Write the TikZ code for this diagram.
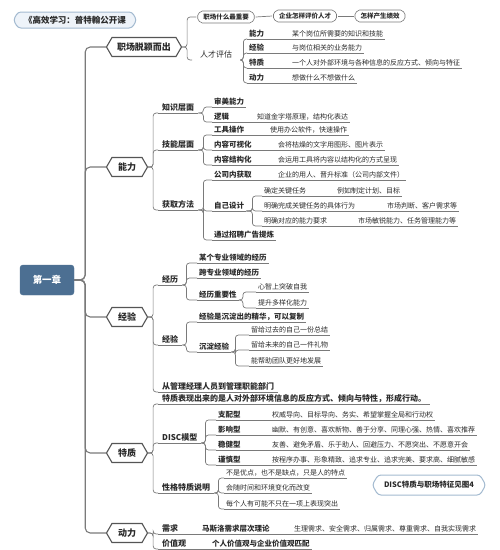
\documentclass[tikz,border=0pt]{standalone}
\usepackage{fontspec}
\setmainfont{Noto Sans CJK SC}
\usetikzlibrary{shapes.symbols}
\definecolor{linegray}{HTML}{7A7A7A}
\definecolor{boxgray}{HTML}{555555}
\definecolor{txt}{HTML}{2A2A2A}
\definecolor{rootblue}{HTML}{4C6F92}
\definecolor{paleblue}{HTML}{EEF3F9}
\definecolor{edgeblue}{HTML}{A3BAD0}
\tikzset{
  root/.style={draw=rootblue, fill=rootblue, rounded corners=3pt, text=white,
    font=\bfseries\fontsize{9.5}{10}\selectfont, minimum width=54pt, minimum height=30pt},
  branch/.style={shape=signal, signal to=west and east, signal pointer angle=120,
    draw=boxgray, line width=1.1pt, fill=white, text=txt,
    font=\bfseries\fontsize{9}{10}\selectfont, minimum height=19pt, inner xsep=5pt, inner ysep=2pt},
  titlebox/.style={shape=signal, signal to=west and east, signal pointer angle=120,
    rounded corners=3pt, draw=edgeblue, fill=paleblue, line width=1pt, text=txt,
    font=\bfseries\fontsize{8.5}{9}\selectfont, minimum height=16pt, inner xsep=6pt},
  qbox/.style={shape=signal, signal to=west and east, signal pointer angle=120,
    rounded corners=2pt, draw=linegray, line width=0.6pt, fill=white, text=txt,
    font=\bfseries\fontsize{6.5}{7}\selectfont, minimum height=12pt, inner xsep=3pt, inner ysep=1pt},
  sub/.style={anchor=south west, inner xsep=4pt, inner ysep=1.5pt, text=txt,
    font=\bfseries\fontsize{8}{9}\selectfont},
  lab/.style={anchor=south west, inner xsep=2pt, inner ysep=1.5pt, text=txt,
    font=\bfseries\fontsize{7.5}{8}\selectfont},
  leaf/.style={anchor=south west, inner xsep=2pt, inner ysep=1.5pt, text=txt,
    font=\fontsize{7}{8}\selectfont},
  link/.style={draw=linegray, line width=0.7pt, rounded corners=3pt},
  trunk/.style={draw=linegray, line width=1.1pt, rounded corners=5pt},
  uline/.style={draw=linegray, line width=0.8pt},
}
\begin{document}
\begin{tikzpicture}[x=1pt,y=-1pt]
\useasboundingbox (0,0) rectangle (500,550);

\node[titlebox] (tt) at (75,20) {《高效学习：普特翰公开课};
\node[root] (r) at (47,280) {第一章};

% first level
\node[branch] (zc) at (144,47) {职场脱颖而出};
\node[branch, minimum width=41pt] (nl) at (127,167) {能力};
\node[branch, minimum width=41pt] (jy) at (127,317) {经验};
\node[branch, minimum width=41pt] (tz) at (127,453) {特质};
\node[branch, minimum width=41pt] (dl) at (127,533) {动力};
\foreach \b in {zc,nl,jy,tz,dl} \draw[trunk] (r.east) -- ++(11,0) |- (\b.west);

% 职场脱颖而出
\node[qbox] (q1) at (226,17) {职场什么最重要};
\node[qbox] (q2) at (305,16) {企业怎样评价人才};
\node[qbox] (q3) at (380,16) {怎样产生绩效};
\node[sub, font=\fontsize{8}{9}\selectfont, minimum width=48pt] (rc) at (192,60) {人才评估};
\draw[link] (zc.east) -- ++(5,0) |- (q1.west);
\draw[link] (zc.east) -- ++(5,0) |- (rc.south west);
\draw[link] (q1.east) -- (q2.west);
\draw[link] (q2.east) -- (q3.west);
\node[lab] (rc1) at (247,39) {能力}; \node[leaf] (rc1-d) at (290,39) {某个岗位所需要的知识和技能};
\node[lab] (rc2) at (247,53) {经验}; \node[leaf] (rc2-d) at (290,53) {与岗位相关的业务能力};
\node[lab] (rc3) at (247,68) {特质}; \node[leaf] (rc3-d) at (290,68) {一个人对外部环境与各种信息的反应方式、倾向与特征};
\node[lab] (rc4) at (247,83) {动力}; \node[leaf] (rc4-d) at (290,83) {想做什么不想做什么};
\foreach \c in {rc1,rc2,rc3,rc4} {
  \draw[link] (rc.south east) -- ++(3,0) |- (\c.south west);
  \draw[uline] (\c.south west) -- (\c-d.south east);
}

% 能力
\node[sub] (zs) at (158,113) {知识层面};
\node[sub] (jn) at (158,150) {技能层面};
\node[sub] (hq) at (158,210) {获取方法};
\node[lab] (zs1) at (212,107) {审美能力};
\node[lab] (zs2) at (212,122) {逻辑}; \node[leaf] (zs2-d) at (255,122) {知道金字塔原理，结构化表达};
\node[lab] (jn1) at (212,135) {工具操作}; \node[leaf] (jn1-d) at (268,135) {使用办公软件，快速操作};
\node[lab] (jn2) at (212,150) {内容可视化}; \node[leaf] (jn2-d) at (276,150) {会将枯燥的文字用图形、图片表示};
\node[lab] (jn3) at (212,165) {内容结构化}; \node[leaf] (jn3-d) at (276,165) {会运用工具将内容以结构化的方式呈现};
\node[lab] (hq1) at (212,180) {公司内获取}; \node[leaf] (hq1-d) at (276,180) {企业的用人、晋升标准（公司内部文件）};
\node[lab] (hq2) at (212,211) {自己设计};
\node[lab] (hq3) at (212,240) {通过招聘广告提炼};
\node[leaf] (sj1) at (262,196) {确定关键任务}; \node[leaf] (sj1-d) at (335,196) {例如制定计划、目标};
\node[leaf] (sj2) at (262,211) {明确完成关键任务的具体行为}; \node[leaf] (sj2-d) at (385,211) {市场判断、客户需求等};
\node[leaf] (sj3) at (262,226) {明确对应的能力要求}; \node[leaf] (sj3-d) at (356,226) {市场敏锐能力、任务管理能力等};
\foreach \c in {zs,jn,hq} \draw[link] (nl.east) -- ++(5,0) |- (\c.south west);
\foreach \c in {zs1,zs2} \draw[link] (zs.south east) -- ++(5,0) |- (\c.south west);
\foreach \c in {jn1,jn2,jn3} \draw[link] (jn.south east) -- ++(5,0) |- (\c.south west);
\foreach \c in {hq1,hq2,hq3} \draw[link] (hq.south east) -- ++(5,0) |- (\c.south west);
\foreach \c in {sj1,sj2,sj3} \draw[link] (hq2.south east) -- ++(6,0) |- (\c.south west);
\foreach \c in {zs,jn,hq,zs1,hq2,hq3} \draw[uline] (\c.south west) -- (\c.south east);
\foreach \c in {zs2,jn1,jn2,jn3,hq1,sj1,sj2,sj3} \draw[uline] (\c.south west) -- (\c-d.south east);

% 经验
\node[sub] (jl) at (158,285) {经历};
\node[sub] (jv) at (158,345) {经验};
\node[sub] (gl) at (158,392) {从管理经理人员到管理职能部门};
\node[lab] (jl1) at (197,263) {某个专业领域的经历};
\node[lab] (jl2) at (197,278) {跨专业领域的经历};
\node[lab] (jl3) at (197,300) {经历重要性};
\node[leaf] (jl31) at (256,292) {心智上突破自我};
\node[leaf] (jl32) at (256,308) {提升多样化能力};
\node[lab] (jv1) at (197,322) {经验是沉淀出的精华，可以复制};
\node[lab] (jv2) at (197,352) {沉淀经验};
\node[leaf] (jv21) at (249,335) {留给过去的自己一份总结};
\node[leaf] (jv22) at (249,350) {留给未来的自己一件礼物};
\node[leaf] (jv23) at (249,366) {能帮助团队更好地发展};
\foreach \c in {jl,jv,gl} \draw[link] (jy.east) -- ++(5,0) |- (\c.south west);
\foreach \c in {jl1,jl2,jl3} \draw[link] (jl.south east) -- ++(4,0) |- (\c.south west);
\foreach \c in {jl31,jl32} \draw[link] (jl3.south east) -- ++(4,0) |- (\c.south west);
\foreach \c in {jv1,jv2} \draw[link] (jv.south east) -- ++(4,0) |- (\c.south west);
\foreach \c in {jv21,jv22,jv23} \draw[link] (jv2.south east) -- ++(4,0) |- (\c.south west);
\foreach \c in {jl,jv,gl,jl1,jl2,jl3,jl31,jl32,jv1,jv2,jv21,jv22,jv23}
  \draw[uline] (\c.south west) -- (\c.south east);

% 特质
\node[sub] (tz1) at (158,404) {特质表现出来的是人对外部环境信息的反应方式、倾向与特性，形成行动。};
\node[sub] (disc) at (158,443) {DISC模型};
\node[sub] (xg) at (158,493) {性格特质说明};
\node[lab] (d1) at (216,420) {支配型}; \node[leaf] (d1-d) at (270,420) {权威导向、目标导向、务实、希望掌握全局和行动权};
\node[lab] (d2) at (216,435) {影响型}; \node[leaf] (d2-d) at (270,435) {幽默、有创意、喜欢新物、善于分享、同理心强、热情、喜欢推荐};
\node[lab] (d3) at (216,450) {稳健型}; \node[leaf] (d3-d) at (270,450) {友善、避免矛盾、乐于助人、回避压力、不愿突出、不愿意开会};
\node[lab] (d4) at (216,465) {谨慎型}; \node[leaf] (d4-d) at (270,465) {按程序办事、形象精致、追求专业、追求完美、要求高、细腻敏感};
\node[leaf] (xg1) at (224,478) {不是优点，也不是缺点，只是人的特点};
\node[leaf] (xg2) at (224,493) {会随时间和环境变化而改变};
\node[leaf] (xg3) at (224,509) {每个人有可能不只在一项上表现突出};
\node[titlebox, font=\bfseries\fontsize{7.5}{8}\selectfont, minimum height=20pt, fill=white] (ck) at (429,485) {DISC特质与职场特征见图4};
\foreach \c in {tz1,disc,xg} \draw[link] (tz.east) -- ++(5,0) |- (\c.south west);
\foreach \c in {d1,d2,d3,d4} \draw[link] (disc.south east) -- ++(4,0) |- (\c.south west);
\foreach \c in {xg1,xg2,xg3} \draw[link] (xg.south east) -- ++(4,0) |- (\c.south west);
\foreach \c in {tz1,disc,xg,xg1,xg2,xg3} \draw[uline] (\c.south west) -- (\c.south east);
\foreach \c in {d1,d2,d3,d4} \draw[uline] (\c.south west) -- (\c-d.south east);

% 动力
\node[sub] (xq) at (158,534) {需求};
\node[lab] (xq-m) at (200,534) {马斯洛需求层次理论};
\node[leaf] (xq-d) at (292,534) {生理需求、安全需求、归属需求、尊重需求、自我实现需求};
\node[sub] (jz) at (158,549) {价值观};
\node[lab] (jz-d) at (210,549) {个人价值观与企业价值观匹配};
\foreach \c in {xq,jz} {
  \draw[link] (dl.east) -- ++(5,0) |- (\c.south west);
  \draw[uline] (\c.south west) -- (\c-d.south east);
}
\end{tikzpicture}
\end{document}
